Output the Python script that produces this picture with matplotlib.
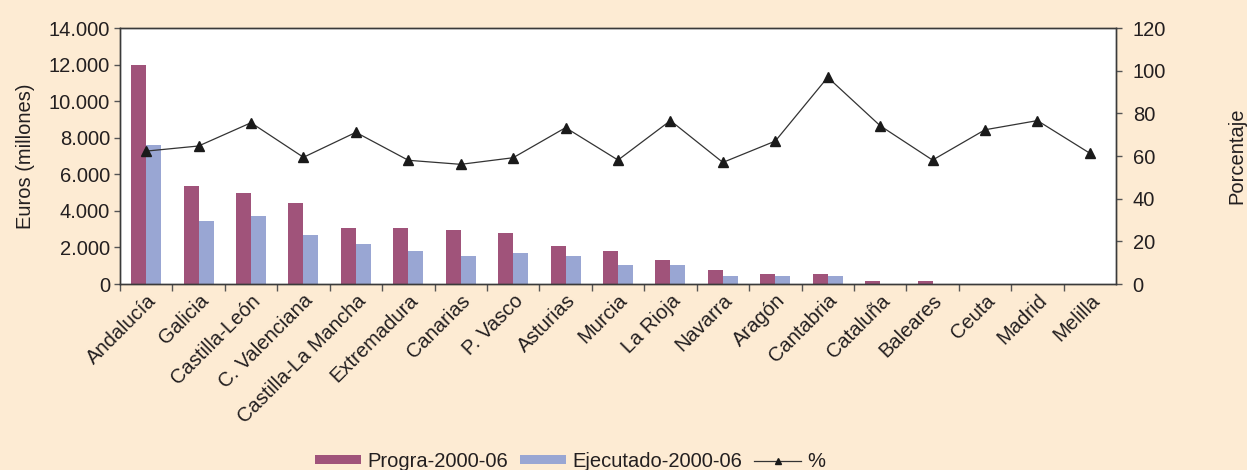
import matplotlib.pyplot as plt
import numpy as np
from matplotlib.lines import Line2D
from matplotlib.patches import Patch

plt.rcParams['font.family'] = ['Liberation Sans', 'DejaVu Sans']

regiones = ["Andalucía", "Galicia", "Castilla-León", "C. Valenciana", "Castilla-La Mancha",
            "Extremadura", "Canarias", "P. Vasco", "Asturias", "Murcia", "La Rioja", "Navarra",
            "Aragón", "Cantabria", "Cataluña", "Baleares", "Ceuta", "Madrid", "Melilla"]
programado = [12000, 5360, 4980, 4430, 3060, 3060, 2950, 2790, 2080, 1800, 1310, 770,
              550, 550, 160, 160, 15, 10, 10]
ejecutado = [7600, 3450, 3720, 2680, 2190, 1800, 1530, 1690, 1530, 1040, 1040, 440,
             440, 440, 20, 20, 10, 5, 5]
porcentaje = [62.3, 64.7, 75.6, 59.4, 71.1, 58.0, 56.1, 59.2, 73.3, 58.1, 76.6, 57.0,
              67.0, 96.9, 74.2, 58.1, 72.3, 76.6, 61.3]

c_prog = '#A0537A'
c_ejec = '#99A6D3'
fondo = '#FDEBD3'
tinta = '#231F20'
fs = 14.5

fig = plt.figure(figsize=(12.47, 4.70), dpi=100, facecolor=fondo)
ax = fig.add_axes([0.0962, 0.3957, 0.7988, 0.5447])
ax.set_facecolor('white')

x = np.arange(len(regiones))
w = 0.286
ax.bar(x - w / 2, programado, w, color=c_prog, linewidth=0)
ax.bar(x + w / 2, ejecutado, w, color=c_ejec, linewidth=0)

ax.set_xlim(-0.5, len(regiones) - 0.5)
ax.set_ylim(0, 14000)
ax.set_yticks(np.arange(0, 14001, 2000))
ax.set_yticklabels(['{:,}'.format(v).replace(',', '.') for v in range(0, 14001, 2000)],
                   fontsize=fs, color=tinta)
ax.set_ylabel('Euros (millones)', fontsize=fs, color=tinta, labelpad=10)

# ticks at category boundaries, labels at centres
ax.set_xticks(x - 0.5, minor=False)
ax.set_xticklabels([])
ax.set_xticks(x, minor=True)
ax.set_xticklabels(regiones, minor=True, rotation=45, ha='right', rotation_mode='anchor',
                   fontsize=fs, color=tinta)
ax.tick_params(axis='x', which='minor', length=0, pad=5)
ax.tick_params(axis='x', which='major', length=5, width=1, color='#555555')
ax.tick_params(axis='y', length=4, width=1, color='#555555', pad=3)

for s in ax.spines.values():
    s.set_color('#3a3a3a')
    s.set_linewidth(1.0)

ax2 = ax.twinx()
ax2.plot(x, porcentaje, color='#333333', linewidth=0.9, marker='^', markersize=7,
         markerfacecolor='#1a1a1a', markeredgecolor='#1a1a1a')
ax2.set_ylim(0, 120)
ax2.set_yticks(np.arange(0, 121, 20))
ax2.tick_params(axis='y', labelsize=fs, labelcolor=tinta, length=4, width=1,
                color='#555555', pad=8)
ax2.set_ylabel('Porcentaje', fontsize=fs, color=tinta, labelpad=44)
for s in ax2.spines.values():
    s.set_color('#3a3a3a')
    s.set_linewidth(1.0)

handles = [Patch(facecolor=c_prog, edgecolor='none'),
           Patch(facecolor=c_ejec, edgecolor='none'),
           Line2D([0], [0], color='#333333', linewidth=0.9, marker='^', markersize=5,
                  markerfacecolor='#1a1a1a', markeredgecolor='#1a1a1a')]
leg = fig.legend(handles, ['Progra-2000-06', 'Ejecutado-2000-06', '%'], loc='lower center',
                 bbox_to_anchor=(0.457, -0.04), ncol=3, frameon=False, fontsize=fs,
                 handlelength=2.3, handleheight=0.35, columnspacing=0.6, handletextpad=0.3)
for t in leg.get_texts():
    t.set_color(tinta)

fig.savefig('out.png', dpi=100, facecolor=fondo)
